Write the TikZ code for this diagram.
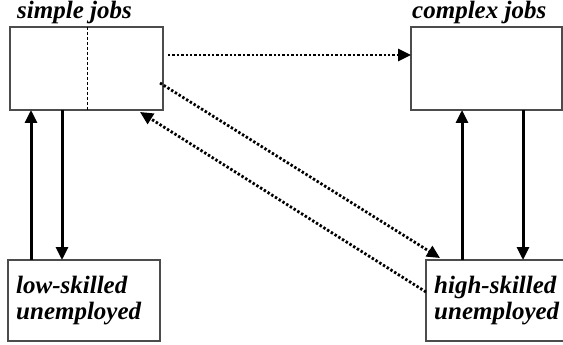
\documentclass[tikz,border=0pt]{standalone}
\usepackage{fontspec}
\setmainfont{Liberation Serif}
\usetikzlibrary{arrows.meta}
\begin{document}
\begin{tikzpicture}[x=1pt,y=-1pt,
  box/.style={draw=black!70, line width=1.2pt, rectangle, inner sep=0pt, outer sep=0pt, anchor=north west},
  lab/.style={inner sep=0pt, anchor=base west, font=\bfseries\itshape\fontsize{25}{26}\selectfont},
  solidarrow/.style={line width=3pt, -{Triangle[length=13pt,width=12pt]}},
  dotarrow/.style={line width=2.8pt, dash pattern=on 2.4pt off 2pt, -{Triangle[length=13pt,width=12pt]}},
  divider/.style={line width=0.9pt, dash pattern=on 3pt off 2pt}]
\useasboundingbox (0,0) rectangle (563,345);
\fill[white] (0,0) rectangle (563,345);
% boxes
\node[box, minimum width=153pt, minimum height=83pt] (sj) at (10,27) {};
\node[box, minimum width=151pt, minimum height=83pt] (cj) at (411,27) {};
\node[box, minimum width=152pt, minimum height=81pt] (lo) at (8,260) {};
\node[box, minimum width=150pt, minimum height=81pt] (hs) at (426,260) {};
\draw[divider] ([xshift=77pt]sj.north west) -- ([xshift=77pt]sj.south west);
% labels
\node[lab] (tsj) at (17,18.5) {simple jobs};
\node[lab] (tcj) at (412,18.5) {complex jobs};
\node[lab] (tlo1) at (16,293) {low-skilled};
\node[lab] (tlo2) at (16,319) {unemployed};
\node[lab] (ths1) at (434,293) {high-skilled};
\node[lab] (ths2) at (434,319) {unemployed};
% vertical arrows
\draw[solidarrow] ([xshift=23pt]lo.north west) -- ([xshift=21pt]sj.south west);
\draw[solidarrow] ([xshift=52pt]sj.south west) -- ([xshift=54pt]lo.north west);
\draw[solidarrow] ([xshift=36pt]hs.north west) -- ([xshift=51pt]cj.south west);
\draw[solidarrow] ([xshift=112pt]cj.south west) -- ([xshift=97pt]hs.north west);
% dotted arrows
\draw[dotarrow] ([xshift=5pt,yshift=-28pt]sj.north east) -- ([yshift=-28pt]cj.north west);
\draw[dotarrow] ([xshift=-3pt,yshift=-56pt]sj.north east) -- ([xshift=14pt,yshift=2pt]hs.north west);
\draw[dotarrow] ([yshift=-32pt]hs.north west) -- ([xshift=-23pt,yshift=-2pt]sj.south east);
\end{tikzpicture}
\end{document}
